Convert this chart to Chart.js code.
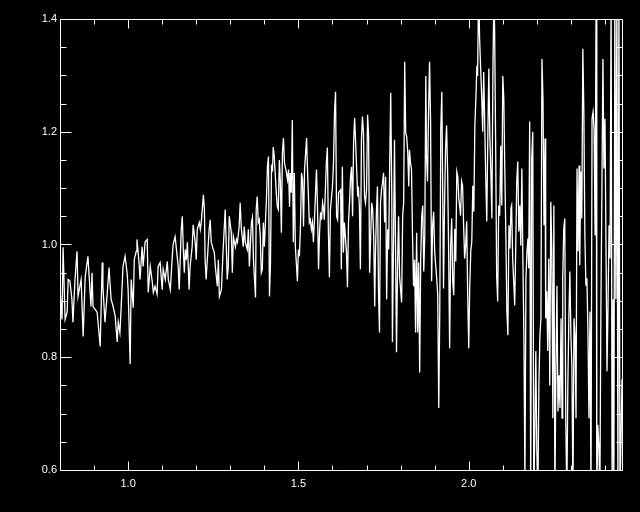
<!DOCTYPE html>
<html>
<head>
<meta charset="utf-8">
<script src="https://cdn.jsdelivr.net/npm/chart.js@4.4.1/dist/chart.umd.min.js"></script>
<style>
  html, body { margin: 0; padding: 0; background: #000; }
  canvas { display: block; }
</style>
</head>
<body>
<canvas id="spectrum" width="640" height="512"></canvas>
<script>
// Panjang gelombang (sumbu x)
const wavelength = [
  0.800,0.806,0.809,0.815,0.821,0.824,0.829,0.835,0.838,0.844,
  0.850,0.853,0.862,0.868,0.874,0.882,0.891,0.894,0.897,0.903,
  0.909,0.918,0.924,0.926,0.932,0.938,0.944,0.950,0.956,0.962,
  0.968,0.971,0.976,0.982,0.985,0.991,0.997,1.000,1.006,1.009,
  1.015,1.018,1.024,1.026,1.032,1.035,1.041,1.044,1.050,1.056,
  1.059,1.065,1.071,1.074,1.079,1.085,1.088,1.094,1.100,1.103,
  1.109,1.115,1.118,1.124,1.129,1.132,1.138,1.144,1.147,1.150,
  1.156,1.159,1.162,1.165,1.168,1.171,1.174,1.179,1.182,1.188,
  1.191,1.197,1.200,1.203,1.209,1.212,1.215,1.221,1.224,1.226,
  1.229,1.232,1.238,1.241,1.244,1.250,1.253,1.256,1.262,1.265,
  1.268,1.274,1.276,1.279,1.285,1.291,1.294,1.297,1.303,1.306,
  1.309,1.315,1.318,1.321,1.326,1.329,1.332,1.338,1.341,1.344,
  1.350,1.353,1.356,1.362,1.365,1.368,1.374,1.376,1.379,1.382,
  1.385,1.388,1.391,1.394,1.397,1.400,1.406,1.409,1.412,1.415,
  1.418,1.421,1.424,1.426,1.429,1.435,1.438,1.441,1.444,1.447,
  1.450,1.453,1.456,1.459,1.465,1.468,1.471,1.474,1.476,1.479,
  1.482,1.485,1.488,1.491,1.497,1.500,1.503,1.506,1.509,1.512,
  1.515,1.518,1.524,1.526,1.529,1.532,1.535,1.538,1.541,1.544,
  1.547,1.553,1.556,1.559,1.562,1.565,1.568,1.571,1.574,1.576,
  1.582,1.585,1.588,1.591,1.594,1.600,1.603,1.606,1.609,1.612,
  1.615,1.618,1.624,1.626,1.629,1.632,1.635,1.641,1.644,1.647,
  1.650,1.653,1.656,1.659,1.662,1.665,1.668,1.674,1.676,1.679,
  1.682,1.685,1.688,1.691,1.694,1.697,1.700,1.703,1.706,1.709,
  1.715,1.718,1.721,1.724,1.726,1.729,1.732,1.735,1.738,1.741,
  1.744,1.747,1.750,1.753,1.756,1.759,1.762,1.765,1.768,1.771,
  1.774,1.776,1.779,1.782,1.785,1.788,1.791,1.794,1.797,1.803,
  1.806,1.809,1.812,1.815,1.818,1.821,1.824,1.826,1.829,1.832,
  1.835,1.838,1.841,1.844,1.847,1.850,1.853,1.856,1.859,1.862,
  1.865,1.868,1.871,1.874,1.876,1.879,1.882,1.885,1.888,1.891,
  1.894,1.897,1.900,1.903,1.906,1.909,1.912,1.915,1.918,1.921,
  1.924,1.926,1.929,1.932,1.935,1.938,1.941,1.944,1.947,1.950,
  1.953,1.956,1.959,1.962,1.965,1.968,1.971,1.974,1.976,1.979,
  1.982,1.985,1.988,1.991,1.994,1.997,2.000,2.003,2.006,2.009,
  2.012,2.015,2.018,2.021,2.024,2.026,2.029,2.032,2.035,2.038,
  2.041,2.044,2.047,2.050,2.053,2.056,2.059,2.062,2.065,2.068,
  2.071,2.074,2.076,2.079,2.082,2.085,2.088,2.091,2.094,2.097,
  2.100,2.103,2.106,2.109,2.112,2.115,2.118,2.121,2.124,2.126,
  2.129,2.132,2.135,2.138,2.141,2.144,2.147,2.150,2.153,2.156,
  2.159,2.162,2.165,2.168,2.171,2.174,2.176,2.179,2.182,2.185,
  2.188,2.191,2.194,2.197,2.200,2.203,2.206,2.209,2.212,2.215,
  2.218,2.221,2.224,2.226,2.229,2.232,2.235,2.238,2.241,2.244,
  2.247,2.250,2.253,2.256,2.259,2.262,2.265,2.268,2.271,2.274,
  2.276,2.279,2.282,2.285,2.288,2.291,2.294,2.297,2.300,2.303,
  2.306,2.309,2.312,2.315,2.318,2.321,2.324,2.326,2.329,2.332,
  2.335,2.338,2.341,2.344,2.347,2.350,2.353,2.356,2.359,2.362,
  2.365,2.368,2.371,2.374,2.376,2.379,2.382,2.385,2.388,2.391,
  2.394,2.397,2.400,2.403,2.406,2.409,2.412,2.415,2.418,2.421,
  2.424,2.426,2.429,2.432,2.435,2.438,2.441,2.444,2.447,2.450
];

// Fluks ternormalisasi (sumbu y)
const flux = [
  0.920,0.867,0.995,0.867,0.880,0.938,0.935,0.903,0.862,0.938,
  0.988,0.908,0.938,0.837,0.943,0.979,0.890,0.950,0.890,0.885,
  0.880,0.819,0.968,0.926,0.862,0.908,0.959,0.903,0.890,0.873,
  0.827,0.862,0.844,0.920,0.961,0.979,0.950,0.920,0.788,0.938,
  0.888,0.973,0.988,1.009,0.968,0.938,0.996,0.961,1.005,1.009,
  0.915,0.961,0.933,0.915,0.926,0.912,0.961,0.968,0.920,0.956,
  0.938,0.970,0.938,0.920,0.973,1.000,1.014,0.979,0.961,0.920,
  1.027,1.050,0.991,0.950,0.991,0.973,1.004,0.920,0.961,0.996,
  1.035,1.004,0.973,1.027,1.039,1.027,1.041,1.088,1.062,0.973,
  0.938,0.968,1.027,1.044,1.004,0.991,0.986,0.961,0.926,0.973,
  0.908,0.920,0.950,0.991,1.062,0.938,0.961,1.050,1.021,0.950,
  1.014,0.996,1.009,1.004,1.032,1.074,1.032,0.996,1.032,1.004,
  0.991,1.027,0.961,1.039,1.048,0.973,0.906,1.062,1.085,1.039,
  1.044,1.014,0.950,0.956,1.039,0.996,1.080,1.138,1.156,0.908,
  0.968,1.138,1.133,1.173,1.156,1.092,1.067,1.062,1.150,1.110,
  1.021,1.163,1.189,1.145,1.127,1.115,1.133,1.067,1.127,1.092,
  1.221,1.004,1.127,0.996,0.935,0.991,0.979,1.032,1.127,1.115,
  1.032,1.133,1.189,1.145,1.092,1.039,1.044,1.027,1.039,1.004,
  1.044,1.133,1.067,0.956,1.021,1.057,1.044,1.074,1.062,1.044,
  1.145,1.172,1.021,0.942,1.062,1.103,1.145,1.234,1.271,1.050,
  1.044,1.092,1.097,0.956,1.138,0.986,1.039,0.986,0.924,1.039,
  1.074,1.120,1.138,1.050,1.181,1.225,1.181,1.085,1.103,1.067,
  0.956,1.186,1.227,1.198,1.085,1.074,1.097,1.230,1.195,0.950,
  1.074,1.062,1.014,0.890,0.979,1.057,1.103,0.920,0.844,1.074,
  1.097,1.110,1.127,1.039,1.120,0.903,1.027,0.991,1.145,1.269,
  1.092,0.827,0.991,1.186,1.004,0.809,0.961,1.050,0.943,0.897,
  1.050,1.074,1.324,1.198,1.191,1.163,1.103,1.168,1.145,1.133,
  1.014,0.926,0.973,0.844,1.021,0.844,0.968,0.773,0.973,1.051,
  1.069,0.952,1.016,1.299,1.158,1.112,1.235,1.324,1.218,0.935,
  1.034,1.058,0.988,0.963,0.940,0.910,0.710,0.881,1.205,1.271,
  1.069,0.922,1.069,1.170,1.211,1.129,0.988,0.816,0.998,1.046,
  0.935,0.910,1.028,0.970,1.129,1.120,1.081,1.064,1.051,1.112,
  1.104,1.034,0.975,0.998,1.041,0.910,0.816,0.927,0.988,1.005,
  1.104,1.058,1.211,1.258,1.317,1.299,1.450,1.365,1.312,1.264,
  1.200,1.306,1.211,1.117,1.041,1.188,1.312,1.193,1.129,1.046,
  1.306,1.450,1.382,1.182,0.945,0.899,1.069,1.051,1.175,1.069,
  1.299,1.258,1.129,1.016,0.881,0.839,1.034,0.993,1.064,1.069,
  0.975,0.935,0.892,0.993,1.112,1.147,1.023,1.069,0.998,1.135,
  0.975,0.839,0.580,0.940,0.988,1.011,0.958,1.218,0.550,1.152,
  1.200,0.550,0.662,0.811,0.634,0.550,0.750,0.839,0.869,1.329,
  1.258,1.034,1.188,0.869,0.917,0.811,0.975,0.750,1.076,0.988,
  0.692,1.069,0.550,0.781,0.927,0.704,0.768,0.710,0.869,0.692,
  0.940,1.028,1.046,0.687,0.550,0.750,0.869,0.952,0.839,0.781,
  0.550,0.869,0.839,0.692,1.135,0.988,1.140,0.963,1.129,1.046,
  1.347,1.235,1.016,0.927,0.940,0.846,0.692,0.881,0.550,1.223,
  1.235,1.205,1.016,1.450,0.550,0.680,0.644,0.550,0.881,1.094,
  1.329,1.135,1.223,0.998,0.775,0.892,1.034,0.975,1.450,0.550,
  0.903,0.550,1.450,0.903,1.450,0.550,1.450,0.550,0.655,0.761
];

// Tick sumbu (gaya IDL: mayor berlabel, minor tanpa label)
const xMajorTicks = [1.0, 1.5, 2.0];
const xMinorTicks = [0.9, 1.1, 1.2, 1.3, 1.4, 1.6, 1.7, 1.8, 1.9, 2.1, 2.2, 2.3, 2.4];
const yMajorTicks = [0.6, 0.8, 1.0, 1.2, 1.4];
const yMinorTicks = [0.65, 0.7, 0.75, 0.85, 0.9, 0.95, 1.05, 1.1, 1.15, 1.25, 1.3, 1.35];

const points = wavelength.map((w, i) => ({ x: w, y: flux[i] }));

// Plugin: latar hitam, bingkai dan tick ke dalam
const idlFrame = {
  id: 'idlFrame',
  beforeDraw(chart) {
    const ctx = chart.ctx;
    ctx.save();
    ctx.fillStyle = '#000';
    ctx.fillRect(0, 0, chart.width, chart.height);
    ctx.restore();
  },
  afterDraw(chart) {
    const { ctx, chartArea: a, scales } = chart;
    const L = a.left + 0.5, R = a.right + 0.5, T = a.top + 0.5, B = a.bottom + 0.5;
    ctx.save();
    ctx.strokeStyle = '#fff';
    ctx.lineWidth = 1;
    ctx.beginPath();
    ctx.moveTo(L, T); ctx.lineTo(R, T); ctx.lineTo(R, B); ctx.lineTo(L, B); ctx.closePath();

    const xTick = (v, len) => {
      const px = Math.round(scales.x.getPixelForValue(v)) + 0.5;
      ctx.moveTo(px, B); ctx.lineTo(px, B - len);
      ctx.moveTo(px, T); ctx.lineTo(px, T + len);
    };
    const yTick = (v, len) => {
      const py = Math.round(scales.y.getPixelForValue(v)) + 0.5;
      ctx.moveTo(L, py); ctx.lineTo(L + len, py);
      ctx.moveTo(R, py); ctx.lineTo(R - len, py);
    };
    xMajorTicks.forEach(v => xTick(v, 9));
    xMinorTicks.forEach(v => xTick(v, 5));
    yMajorTicks.forEach(v => yTick(v, 11));
    yMinorTicks.forEach(v => yTick(v, 6));
    ctx.stroke();
    ctx.restore();
  }
};

const tickFont = { family: 'Liberation Sans', size: 11 };

new Chart(document.getElementById('spectrum'), {
  type: 'line',
  data: {
    datasets: [{
      data: points,
      borderColor: '#fff',
      borderWidth: 1.3,
      pointRadius: 0,
      tension: 0,
      clip: 0,
    }],
  },
  options: {
    responsive: false,
    animation: false,
    devicePixelRatio: 1,
    layout: { padding: { top: 19, right: 18, left: 0, bottom: 0 } },
    plugins: { legend: { display: false }, tooltip: { enabled: false } },
    scales: {
      x: {
        type: 'linear',
        min: 0.8,
        max: 2.45,
        grid: { display: false, drawTicks: false },
        border: { display: false },
        afterBuildTicks: (s) => { s.ticks = xMajorTicks.map(v => ({ value: v })); },
        afterFit: (s) => { s.height = 42; },
        ticks: {
          color: '#fff',
          font: tickFont,
          padding: 7,
          maxRotation: 0,
          autoSkip: false,
          callback: (v) => Number(v).toFixed(1),
        },
      },
      y: {
        type: 'linear',
        min: 0.6,
        max: 1.4,
        grid: { display: false, drawTicks: false },
        border: { display: false },
        afterBuildTicks: (s) => { s.ticks = yMajorTicks.map(v => ({ value: v })); },
        afterFit: (s) => { s.width = 60; },
        ticks: {
          color: '#fff',
          font: tickFont,
          padding: 3,
          autoSkip: false,
          callback: (v) => Number(v).toFixed(1),
        },
      },
    },
  },
  plugins: [idlFrame],
});
</script>
</body>
</html>
